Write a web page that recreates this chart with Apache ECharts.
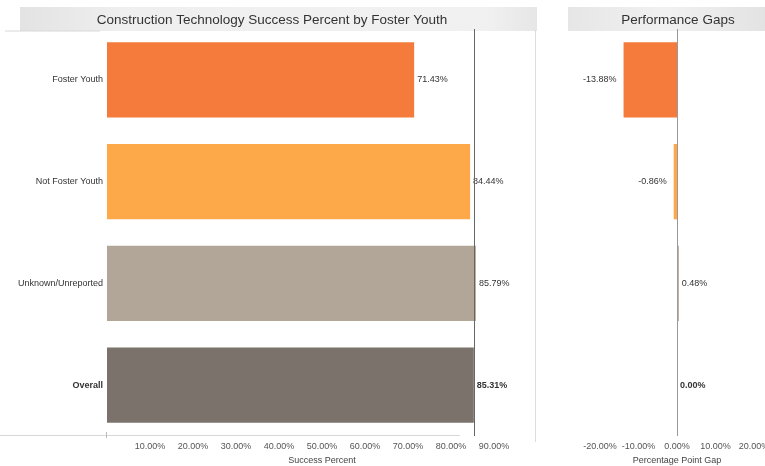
<!DOCTYPE html>
<html>
<head>
<meta charset="utf-8">
<script src="https://cdn.jsdelivr.net/npm/echarts@6/dist/echarts.min.js"></script>
<style>
  html, body { margin: 0; padding: 0; background: #fff; }
  #chart { width: 765px; height: 466px; }
</style>
</head>
<body>
<div id="chart"></div>
<script>
const categories = ['Foster Youth', 'Not Foster Youth', 'Unknown/Unreported', 'Overall']
const successPercent = [71.43, 84.44, 85.79, 85.31]
const pointGap = [-13.88, -0.86, 0.48, 0.00]
const overallRef = 85.31
const barColors = ['#F47B3C', '#FDA849', '#B1A698', '#7B736B']

const fontFamily = 'Arial, "Liberation Sans", sans-serif'
const pct = v => v.toFixed(2) + '%'

const chart = echarts.init(document.getElementById('chart'))

const successData = successPercent.map((v, i) => ({
  value: v,
  itemStyle: { color: barColors[i] },
  label: { fontWeight: i === 3 ? 'bold' : 'normal' }
}))

// negative gaps get their label on the left, the rest on the right
const gapData = pointGap.map((v, i) => ({
  value: v,
  itemStyle: { color: barColors[i] },
  label: {
    position: v < 0 ? 'left' : 'right',
    distance: v < 0 ? 7 : 3,
    fontWeight: i === 3 ? 'bold' : 'normal'
  }
}))

chart.setOption({
  textStyle: { fontFamily },
  animation: false,
  graphic: [
    {
      type: 'rect',
      shape: { x: 20, y: 7, width: 517, height: 24 },
      style: {
        fill: new echarts.graphic.LinearGradient(0, 0, 1, 0, [
          { offset: 0, color: '#e3e3e3' },
          { offset: 0.2, color: '#efefef' },
          { offset: 0.9, color: '#f1f1f1' },
          { offset: 1, color: '#e6e6e6' }
        ])
      },
      z: -1
    },
    {
      type: 'rect',
      shape: { x: 568, y: 7, width: 197, height: 24 },
      style: {
        fill: new echarts.graphic.LinearGradient(0, 0, 1, 0, [
          { offset: 0, color: '#e6e6e6' },
          { offset: 0.5, color: '#f1f1f1' },
          { offset: 1, color: '#e3e3e3' }
        ])
      },
      z: -1
    },
    { type: 'line', shape: { x1: 5, y1: 31, x2: 100, y2: 31 }, style: { stroke: '#d8d8d8', lineWidth: 1 } },
    { type: 'line', shape: { x1: 0, y1: 435.5, x2: 460, y2: 435.5 }, style: { stroke: '#d8d8d8', lineWidth: 1 } },
    { type: 'line', shape: { x1: 106.5, y1: 432, x2: 106.5, y2: 438 }, style: { stroke: '#bbb', lineWidth: 1 } },
    { type: 'line', shape: { x1: 535.5, y1: 30, x2: 535.5, y2: 442 }, style: { stroke: '#dcdcdc', lineWidth: 1 } }
  ],
  title: [
    {
      text: 'Construction Technology Success Percent by Foster Youth',
      left: 267,
      top: 8,
      textAlign: 'center',
      textStyle: { fontSize: 13.5, fontWeight: 'normal', color: '#333' }
    },
    {
      text: 'Performance Gaps',
      left: 673,
      top: 8,
      textAlign: 'center',
      textStyle: { fontSize: 13.5, fontWeight: 'normal', color: '#333' }
    }
  ],
  grid: [
    { left: 107, top: 29, width: 430, height: 407, outerBoundsMode: 'none' },
    { left: 600, top: 29, width: 154, height: 407, outerBoundsMode: 'none' }
  ],
  xAxis: [
    {
      gridIndex: 0,
      type: 'value',
      min: 0,
      max: 100,
      interval: 10,
      name: 'Success Percent',
      nameLocation: 'middle',
      nameGap: 19,
      nameTextStyle: { fontSize: 9, color: '#444' },
      axisLine: { show: false },
      axisTick: { show: false },
      splitLine: { show: false },
      axisLabel: {
        fontSize: 9,
        color: '#555',
        margin: 6,
        showMinLabel: false,
        showMaxLabel: false,
        formatter: v => pct(v)
      }
    },
    {
      gridIndex: 1,
      type: 'value',
      min: -20,
      max: 20,
      interval: 10,
      name: 'Percentage Point Gap',
      nameLocation: 'middle',
      nameGap: 19,
      nameTextStyle: { fontSize: 9, color: '#444' },
      axisLine: { show: false },
      axisTick: { show: false },
      splitLine: { show: false },
      axisLabel: {
        fontSize: 9,
        color: '#555',
        margin: 6,
        formatter: v => pct(v)
      }
    }
  ],
  yAxis: [
    {
      gridIndex: 0,
      type: 'category',
      inverse: true,
      data: categories,
      axisLine: { show: false },
      axisTick: { show: false },
      axisLabel: {
        fontSize: 9,
        color: '#333',
        margin: 4,
        formatter: v => v === 'Overall' ? '{b|' + v + '}' : v,
        rich: { b: { fontSize: 9, fontWeight: 'bold', color: '#333' } }
      }
    },
    {
      gridIndex: 1,
      type: 'category',
      inverse: true,
      data: categories,
      axisLine: { show: false },
      axisTick: { show: false },
      axisLabel: { show: false }
    }
  ],
  series: [
    {
      type: 'bar',
      xAxisIndex: 0,
      yAxisIndex: 0,
      barCategoryGap: '26%',
      data: successData,
      label: {
        show: true,
        position: 'right',
        distance: 3,
        fontSize: 9,
        color: '#333',
        formatter: p => pct(p.value)
      },
      markLine: {
        silent: true,
        symbol: 'none',
        label: { show: false },
        lineStyle: { color: '#666', width: 1, type: 'solid' },
        data: [{ xAxis: overallRef }]
      }
    },
    {
      type: 'bar',
      xAxisIndex: 1,
      yAxisIndex: 1,
      barCategoryGap: '26%',
      data: gapData,
      label: {
        show: true,
        fontSize: 9,
        color: '#333',
        formatter: p => pct(p.value)
      },
      markLine: {
        silent: true,
        symbol: 'none',
        label: { show: false },
        lineStyle: { color: '#999', width: 1, type: 'solid' },
        data: [{ xAxis: 0 }]
      }
    }
  ]
})
</script>
</body>
</html>
